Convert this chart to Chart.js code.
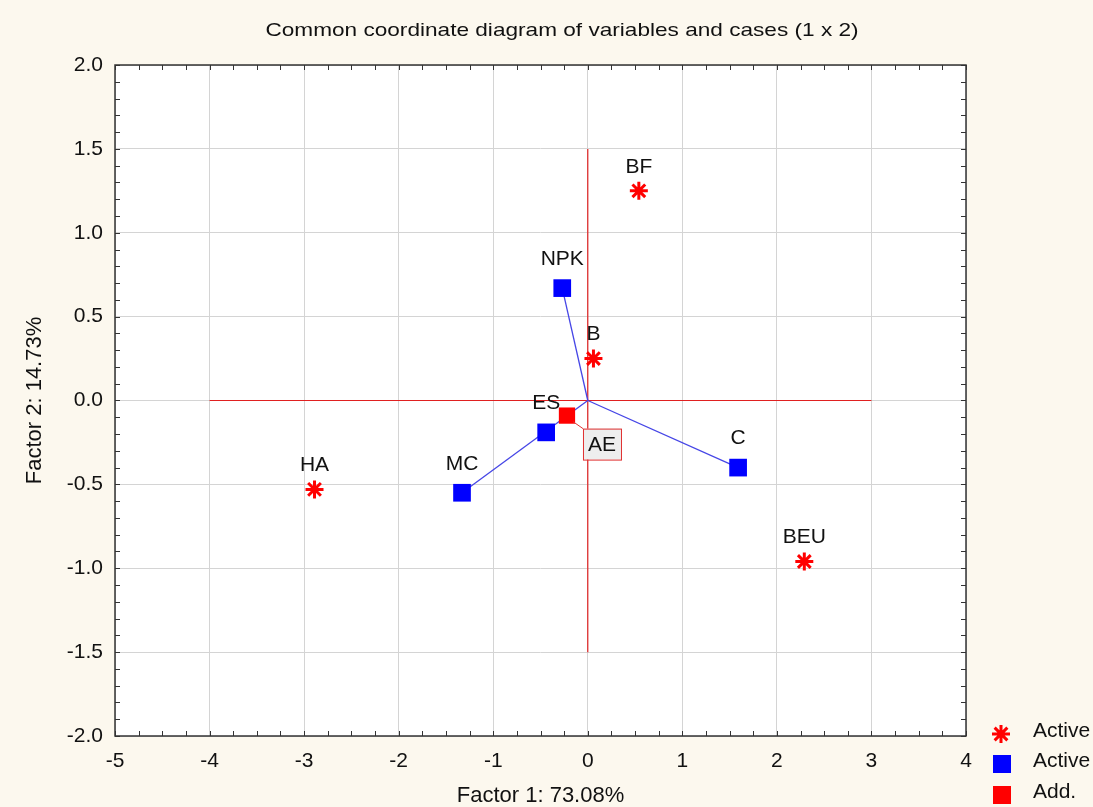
<!DOCTYPE html>
<html>
<head>
<meta charset="utf-8">
<script src="https://cdn.jsdelivr.net/npm/chart.js@4.4.1/dist/chart.umd.min.js"></script>
<style>
  html, body { margin: 0; padding: 0; background: #fcf8ee; }
  #wrap { width: 1093px; height: 807px; }
</style>
</head>
<body>
<div id="wrap"><canvas id="chart" width="1093" height="807"></canvas></div>
<script>
// Punti attivi (asterischi rossi)
const starLabels = ['BF', 'B', 'HA', 'BEU'];
const starX = [0.54, 0.06, -2.89, 2.29];
const starY = [1.25, 0.25, -0.53, -0.96];

// Variabili attive (quadrati blu)
const squareLabels = ['NPK', 'ES', 'MC', 'C'];
const squareX = [-0.27, -0.44, -1.33, 1.59];
const squareY = [0.67, -0.19, -0.55, -0.40];

// Variabile supplementare (quadrato rosso)
const addLabels = ['AE'];
const addX = [-0.22];
const addY = [-0.09];

// Croce rossa degli assi
const crossH = [[-4, 0], [3, 0]];
const crossV = [[0, -1.5], [0, 1.5]];

// Vettori dall'origine (indici dei quadrati blu)
const vectorTargets = [0, 2, 3];

const chartTitle = 'Common coordinate diagram of variables and cases (1 x 2)';
const xTitle = 'Factor 1: 73.08%';
const yTitle = 'Factor 2: 14.73%';
const legendItems = ['Active', 'Active', 'Add.'];

const FONT = '"Liberation Sans", Arial, sans-serif';

function toPoints(xs, ys) {
    return xs.map((x, i) => ({ x: x, y: ys[i] }));
}
function pairs(arr) {
    return arr.map(p => ({ x: p[0], y: p[1] }));
}

const vectorSets = vectorTargets.map(i => ({
    type: 'line',
    data: [{ x: 0, y: 0 }, { x: squareX[i], y: squareY[i] }],
    borderColor: '#4646e6',
    borderWidth: 1.3,
    pointRadius: 0,
    showLine: true,
    order: 5
}));

// Sfondo, cornice, tacche minori, titolo, etichette e legenda
const decorPlugin = {
    id: 'decor',
    beforeDraw(chart) {
        const { ctx, chartArea: a } = chart;
        ctx.save();
        ctx.fillStyle = '#fcf8ee';
        ctx.fillRect(0, 0, chart.width, chart.height);
        ctx.fillStyle = '#ffffff';
        ctx.fillRect(a.left, a.top, a.right - a.left, a.bottom - a.top);
        ctx.restore();
    },
    afterDatasetsDraw(chart) {
        const { ctx, chartArea: a, scales } = chart;
        const xs = scales.x, ys = scales.y;
        ctx.save();

        // cornice
        ctx.strokeStyle = '#333333';
        ctx.lineWidth = 1.5;
        ctx.strokeRect(a.left, a.top, a.right - a.left, a.bottom - a.top);

        // tacche minori interne
        ctx.lineWidth = 1;
        ctx.beginPath();
        for (let v = -5; v <= 4.001; v += 0.25) {
            const px = Math.round(xs.getPixelForValue(v)) + 0.5;
            ctx.moveTo(px, a.bottom); ctx.lineTo(px, a.bottom - 5);
            ctx.moveTo(px, a.top); ctx.lineTo(px, a.top + 5);
        }
        for (let v = -2; v <= 2.001; v += 0.1) {
            const py = Math.round(ys.getPixelForValue(v)) + 0.5;
            ctx.moveTo(a.left, py); ctx.lineTo(a.left + 5, py);
            ctx.moveTo(a.right, py); ctx.lineTo(a.right - 5, py);
        }
        ctx.stroke();

        // etichette dei punti
        ctx.fillStyle = '#111111';
        ctx.font = '21px ' + FONT;
        ctx.textAlign = 'center';
        ctx.textBaseline = 'middle';
        starLabels.forEach((t, i) => {
            ctx.fillText(t, xs.getPixelForValue(starX[i]), ys.getPixelForValue(starY[i]) - 24);
        });
        squareLabels.forEach((t, i) => {
            ctx.fillText(t, xs.getPixelForValue(squareX[i]), ys.getPixelForValue(squareY[i]) - 29);
        });

        // etichetta AE con riquadro
        const ax = xs.getPixelForValue(addX[0]);
        const ay = ys.getPixelForValue(addY[0]);
        const bx = ax + 16, by = ay + 13, bw = 38, bh = 31;
        ctx.strokeStyle = '#e03030';
        ctx.lineWidth = 1;
        ctx.beginPath();
        ctx.moveTo(ax + 6, ay + 6);
        ctx.lineTo(bx, by);
        ctx.stroke();
        ctx.fillStyle = '#eeeeee';
        ctx.fillRect(bx, by, bw, bh);
        ctx.strokeRect(bx + 0.5, by + 0.5, bw, bh);
        ctx.fillStyle = '#111111';
        ctx.fillText(addLabels[0], bx + bw / 2, by + bh / 2 + 1);

        ctx.restore();
    },
    afterDraw(chart) {
        const { ctx } = chart;
        ctx.save();
        // titolo (leggermente allargato in orizzontale come nell'originale)
        ctx.fillStyle = '#111111';
        ctx.font = '19px ' + FONT;
        ctx.textAlign = 'center';
        ctx.textBaseline = 'middle';
        ctx.save();
        ctx.translate(562, 31);
        ctx.scale(1.19, 1);
        ctx.fillText(chartTitle, 0, 0);
        ctx.restore();

        // legenda
        ctx.font = '21px ' + FONT;
        ctx.textAlign = 'left';
        const ly = [734, 764, 795];
        ctx.strokeStyle = '#ff0000';
        ctx.fillStyle = '#ff0000';
        ctx.lineWidth = 3;
        Chart.helpers.drawPoint(ctx, { pointStyle: 'star', radius: 9, borderWidth: 3, rotation: 0 }, 1001, ly[0]);
        ctx.fillStyle = '#0000ff';
        ctx.fillRect(993, ly[1] - 9, 18, 18);
        ctx.fillStyle = '#ff0000';
        ctx.fillRect(993, ly[2] - 9, 18, 18);
        ctx.fillStyle = '#111111';
        legendItems.forEach((t, i) => ctx.fillText(t, 1033, ly[i] - 3));
        ctx.restore();
    }
};

const ctx = document.getElementById('chart').getContext('2d');
new Chart(ctx, {
    type: 'scatter',
    data: {
        datasets: [
            {
                type: 'line', data: pairs(crossH), borderColor: '#e02020', borderWidth: 1.2,
                pointRadius: 0, showLine: true, order: 6
            },
            {
                type: 'line', data: pairs(crossV), borderColor: '#e02020', borderWidth: 1.2,
                pointRadius: 0, showLine: true, order: 6
            },
            ...vectorSets,
            {
                label: 'Active', data: toPoints(starX, starY), pointStyle: 'star',
                pointRadius: 9, borderColor: '#ff0000', backgroundColor: '#ff0000',
                pointBorderWidth: 3, order: 1
            },
            {
                label: 'Active', data: toPoints(squareX, squareY), pointStyle: 'rect',
                pointRadius: 12.5, borderColor: '#0000ff', backgroundColor: '#0000ff',
                pointBorderWidth: 0, order: 1
            },
            {
                label: 'Add.', data: toPoints(addX, addY), pointStyle: 'rect',
                pointRadius: 11.5, borderColor: '#ff0000', backgroundColor: '#ff0000',
                pointBorderWidth: 0, order: 0
            }
        ]
    },
    options: {
        responsive: false,
        animation: false,
        layout: { padding: { top: 65, right: 127, left: 0, bottom: 0 } },
        plugins: {
            legend: { display: false },
            tooltip: { enabled: false }
        },
        scales: {
            x: {
                type: 'linear',
                min: -5, max: 4,
                afterFit(scale) { scale.height = 71; },
                ticks: {
                    stepSize: 1, padding: 13, color: '#111111',
                    font: { family: FONT, size: 21 }
                },
                grid: { color: '#d4d4d4', drawTicks: false },
                border: { display: false },
                title: {
                    display: true, text: xTitle, color: '#111111',
                    font: { family: FONT, size: 22 }, padding: { top: 0, bottom: -2 }
                }
            },
            y: {
                type: 'linear',
                min: -2, max: 2,
                afterFit(scale) { scale.width = 115; },
                ticks: {
                    stepSize: 0.5, padding: 12, color: '#111111',
                    font: { family: FONT, size: 21 },
                    callback: v => v.toFixed(1)
                },
                grid: { color: '#d4d4d4', drawTicks: false },
                border: { display: false },
                title: {
                    display: true, text: yTitle, color: '#111111',
                    font: { family: FONT, size: 22 }, padding: { top: 22, bottom: 0 }
                }
            }
        }
    },
    plugins: [decorPlugin]
});
</script>
</body>
</html>
